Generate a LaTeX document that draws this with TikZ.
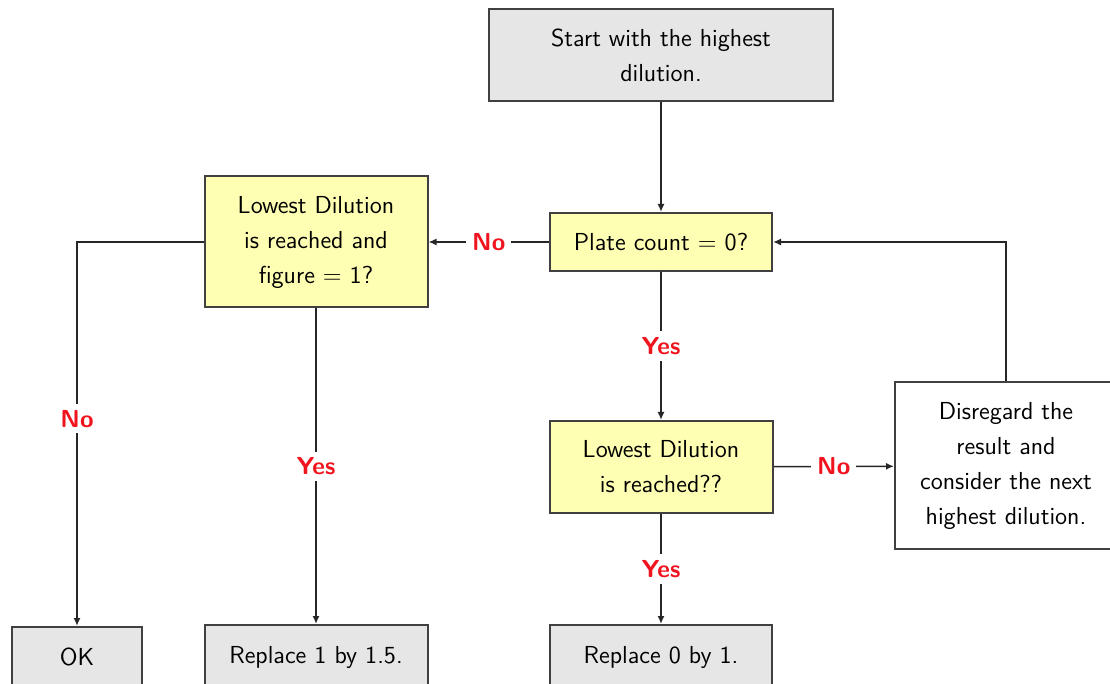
\documentclass[tikz,border=0pt]{standalone}
\usetikzlibrary{arrows.meta}

\definecolor{boxgrey}{RGB}{230,230,230}
\definecolor{askyellow}{RGB}{255,255,180}
\definecolor{answerred}{RGB}{240,20,30}

\tikzset{
  stepfont/.style={font=\sffamily\fontsize{12.3}{17.5}\selectfont},
  greybox/.style={stepfont, draw=black!75, line width=1pt, fill=boxgrey, align=center, inner sep=0pt},
  askbox/.style={greybox, fill=askyellow},
  notebox/.style={greybox, fill=white},
  answer/.style={fill=white, text=answerred, font=\sffamily\bfseries\fontsize{12.3}{14}\selectfont, inner sep=3pt},
  flow/.style={line width=0.8pt, draw=black!85, -{Latex[length=4pt,width=3.5pt]}},
}

\begin{document}
\begin{tikzpicture}[x=0.5pt,y=-0.5pt]
\useasboundingbox (0,0) rectangle (1110,684);

% boxes
\node[greybox, minimum width=172pt, minimum height=46pt] (start) at (661,55) {Start with the highest\\dilution.};
\node[askbox, minimum width=111pt, minimum height=29pt] (plate) at (661,242) {Plate count = 0?};
\node[askbox, minimum width=111.5pt, minimum height=65.5pt] (lowfig) at (316,242) {Lowest Dilution\\is reached and\\figure = 1?};
\node[askbox, minimum width=111.5pt, minimum height=46pt] (lowest) at (661,467) {Lowest Dilution\\is reached??};
\node[notebox, minimum width=111pt, minimum height=83.5pt] (disregard) at (1006,466) {Disregard the\\result and\\consider the next\\highest dilution.};
\node[greybox, minimum width=65pt, minimum height=30pt] (ok) at (77,657) {OK};
\node[greybox, minimum width=111.5pt, minimum height=32pt] (repone) at (316,657) {Replace 1 by 1.5.};
\node[greybox, minimum width=111pt, minimum height=32pt] (repzero) at (661,657) {Replace 0 by 1.};

% connectors
\draw[flow] (start) -- (plate);
\draw[flow] (plate) -- node[answer] {No} (lowfig);
\draw[flow] (lowfig.west) -| node[answer, pos=0.73] {No} (ok.north);
\draw[flow] (lowfig) -- node[answer] {Yes} (repone);
\draw[flow] (plate) -- node[answer] {Yes} (lowest);
\draw[flow] (lowest) -- node[answer] {No} (disregard);
\draw[flow] (lowest) -- node[answer] {Yes} (repzero);
\draw[flow] (disregard.north) |- (plate.east);

\end{tikzpicture}
\end{document}
